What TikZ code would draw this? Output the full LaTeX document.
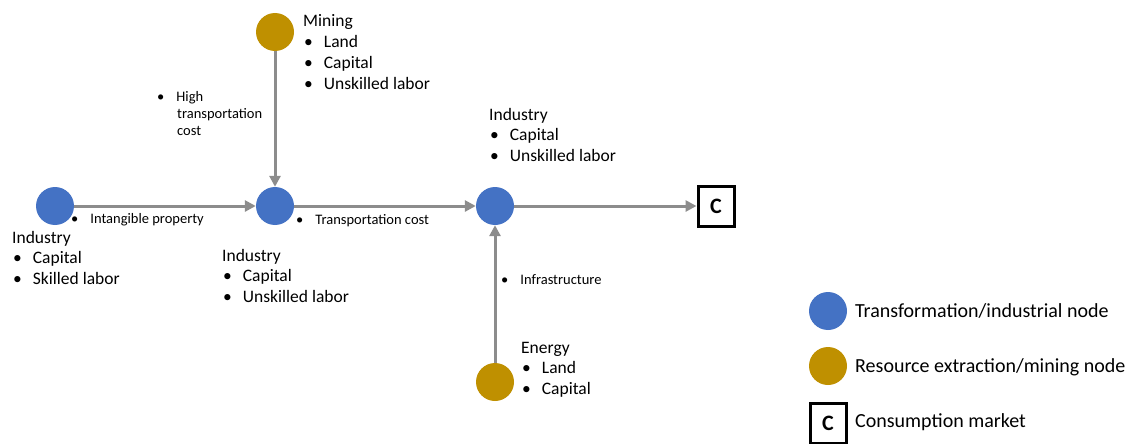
\documentclass[tikz,border=0pt]{standalone}
\usepackage{fontspec}
\setmainfont{Carlito}
\usetikzlibrary{arrows.meta}
\definecolor{nodeblue}{HTML}{4472C4}
\definecolor{nodegold}{HTML}{BF9000}
\definecolor{arrowgray}{HTML}{8C8C8C}
\begin{document}
\begin{tikzpicture}[x=1pt,y=-1pt,
  bluenode/.style={circle,fill=nodeblue,minimum size=38pt,inner sep=0pt},
  goldnode/.style={circle,fill=nodegold,minimum size=38pt,inner sep=0pt},
  cbox/.style={draw=black,line width=3pt,minimum width=36pt,minimum height=40pt,inner sep=0pt,font=\fontsize{22}{26}\selectfont\bfseries},
  flow/.style={draw=arrowgray,line width=3pt,-{Triangle[length=11pt,width=11pt]}},
  big/.style={anchor=mid west,inner sep=0pt,yshift=-3pt,font=\fontsize{17.5}{21}\selectfont},
  small/.style={anchor=mid west,inner sep=0pt,yshift=-2pt,font=\fontsize{14.5}{17}\selectfont},
  legend/.style={anchor=mid west,inner sep=0pt,yshift=-4pt,font=\fontsize{20}{24}\selectfont}]
\useasboundingbox (0,0) rectangle (1130,444);

% nodes
\node[bluenode] (i1) at (55,206) {};
\node[bluenode] (i2) at (275,206) {};
\node[bluenode] (i3) at (495,206) {};
\node[goldnode] (m) at (275,32) {};
\node[goldnode] (e) at (495,382) {};
\node[cbox] (c) at (716,206) {C};

% connectors
\draw[flow] (i1) -- (i2);
\draw[flow] (m) -- (i2);
\draw[flow] (i2) -- (i3);
\draw[flow] (i3) -- (c);
\draw[flow] (e) -- (i3);

% connector labels
\node[small] (l1) at (71,219) {\textbullet\hspace{12pt}Intangible property};
\node[small] (l2) at (296,220) {\textbullet\hspace{12pt}Transportation cost};
\node[small] (l3a) at (157,97) {\textbullet\hspace{12pt}High};
\node[small] (l3b) at (177,114) {transportation};
\node[small] (l3c) at (177,131) {cost};
\node[small] (l4) at (501,280) {\textbullet\hspace{12pt}Infrastructure};

% Industry 1
\node[big] (t1) at (12,238) {Industry};
\node[big] (t1a) at (13,258) {\textbullet\hspace{11pt}Capital};
\node[big] (t1b) at (13,279) {\textbullet\hspace{11pt}Skilled labor};
% Industry 2
\node[big] (t2) at (222,256) {Industry};
\node[big] (t2a) at (223,276) {\textbullet\hspace{11pt}Capital};
\node[big] (t2b) at (223,297) {\textbullet\hspace{11pt}Unskilled labor};
% Mining
\node[big] (t3) at (303,21) {Mining};
\node[big] (t3a) at (304,42) {\textbullet\hspace{11pt}Land};
\node[big] (t3b) at (304,63) {\textbullet\hspace{11pt}Capital};
\node[big] (t3c) at (304,84) {\textbullet\hspace{11pt}Unskilled labor};
% Industry 3
\node[big] (t4) at (489,115) {Industry};
\node[big] (t4a) at (490,135) {\textbullet\hspace{11pt}Capital};
\node[big] (t4b) at (490,156) {\textbullet\hspace{11pt}Unskilled labor};
% Energy
\node[big] (t5) at (521,348) {Energy};
\node[big] (t5a) at (522,368) {\textbullet\hspace{11pt}Land};
\node[big] (t5b) at (522,389) {\textbullet\hspace{11pt}Capital};

% legend
\node[bluenode] (lg1) at (828,311) {};
\node[goldnode] (lg2) at (828,366) {};
\node[cbox] (lg3) at (828,423) {C};
\node[legend] (lt1) at (855,311) {Transformation/industrial node};
\node[legend] (lt2) at (855,366) {Resource extraction/mining node};
\node[legend] (lt3) at (855,421) {Consumption market};
\end{tikzpicture}
\end{document}
